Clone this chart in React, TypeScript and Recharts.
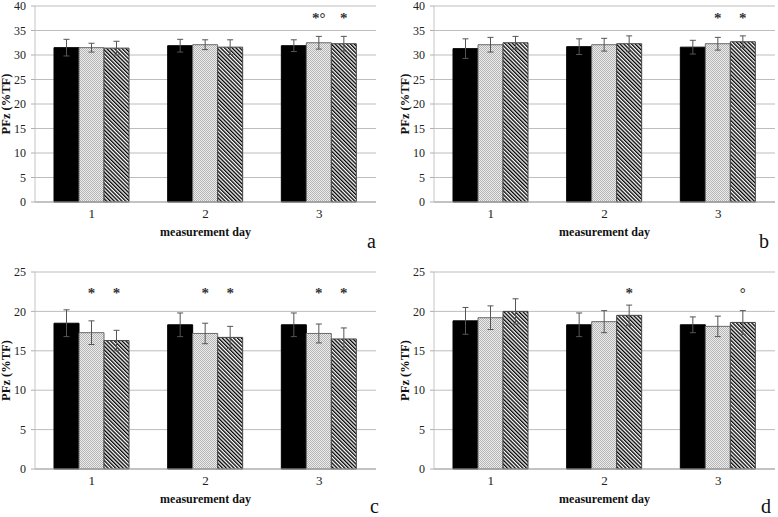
import React from "react";
import { BarChart, Bar, XAxis, YAxis, CartesianGrid, ErrorBar, LabelList } from "recharts";

// measurement days
const days = ["1", "2", "3"];

// panel a
const aBlack = [31.5, 31.9, 31.9];
const aBlackErr = [1.7, 1.3, 1.2];
const aDot = [31.5, 32.1, 32.5];
const aDotErr = [0.9, 1.0, 1.3];
const aHatch = [31.4, 31.6, 32.3];
const aHatchErr = [1.4, 1.5, 1.5];
const aDotMark = ["", "", "*°"];
const aHatchMark = ["", "", "*"];

// panel b
const bBlack = [31.3, 31.7, 31.6];
const bBlackErr = [2.0, 1.6, 1.4];
const bDot = [32.1, 32.1, 32.3];
const bDotErr = [1.5, 1.3, 1.3];
const bHatch = [32.5, 32.3, 32.7];
const bHatchErr = [1.3, 1.6, 1.2];
const bDotMark = ["", "", "*"];
const bHatchMark = ["", "", "*"];

// panel c
const cBlack = [18.5, 18.3, 18.3];
const cBlackErr = [1.7, 1.5, 1.5];
const cDot = [17.3, 17.2, 17.2];
const cDotErr = [1.5, 1.3, 1.2];
const cHatch = [16.3, 16.7, 16.5];
const cHatchErr = [1.3, 1.4, 1.4];
const cDotMark = ["*", "*", "*"];
const cHatchMark = ["*", "*", "*"];

// panel d
const dBlack = [18.8, 18.3, 18.3];
const dBlackErr = [1.7, 1.5, 1.0];
const dDot = [19.2, 18.7, 18.1];
const dDotErr = [1.5, 1.4, 1.3];
const dHatch = [20.0, 19.5, 18.6];
const dHatchErr = [1.6, 1.3, 1.5];
const dDotMark = ["", "", ""];
const dHatchMark = ["", "*", "°"];

const ticks40 = [0, 5, 10, 15, 20, 25, 30, 35, 40];
const ticks25 = [0, 5, 10, 15, 20, 25];
const sepTicks = [0, 1, 2, 3];

const FONT = "'Liberation Serif', 'Times New Roman', serif";

const build = (black, blackErr, dot, dotErr, hatch, hatchErr, dotMark, hatchMark) =>
  days.map((d, i) => ({
    day: d,
    black: black[i],
    blackErr: blackErr[i],
    dot: dot[i],
    dotErr: dotErr[i],
    hatch: hatch[i],
    hatchErr: hatchErr[i],
    dotMark: dotMark[i],
    hatchMark: hatchMark[i],
  }));

// star / circle marks placed at a fixed value level above the bars
const markContent = (values: number[], level: number) => (p: any) => {
  const { x, y, width, height, value, index } = p;
  if (!value) return null;
  const v = values[index];
  const perUnit = height / v;
  const yy = y + height - level * perUnit;
  return (
    <text x={x + width / 2} y={yy + 7} textAnchor="middle" style={{ fontFamily: FONT }} fontSize={15} fontWeight="bold" fill="#333">
      {value}
    </text>
  );
};

const Panel = ({ id, left, top, width, height, marginTop, marginBottom, axisW, labelX, max, ticks, level, data, dot, hatch, letter, letterLeft, letterTop }) => (
  <div style={{ position: "absolute", left, top, width, height }}>
    <BarChart
      width={width}
      height={height}
      data={data}
      margin={{ top: marginTop, right: width - axisW - 341, left: 0, bottom: marginBottom }}
      barCategoryGap={19}
      barGap={0}
      style={{ fontFamily: FONT }}
    >
      <defs>
        <pattern id={"dots" + id} width="2" height="2" patternUnits="userSpaceOnUse">
          <rect width="2" height="2" fill="#ededed" />
          <rect x="0" y="0" width="1" height="1" fill="#b4b4b4" />
          <rect x="1" y="1" width="1" height="1" fill="#b4b4b4" />
        </pattern>
        <pattern id={"hatch" + id} width="2.7" height="2.7" patternUnits="userSpaceOnUse" patternTransform="rotate(-45)">
          <rect width="2.7" height="2.7" fill="#ffffff" />
          <rect x="0" y="0" width="1.35" height="2.7" fill="#000000" />
        </pattern>
      </defs>
      <CartesianGrid vertical={false} stroke="#bdbdbd" />
      <XAxis
        xAxisId="sep"
        type="number"
        domain={[0, 3]}
        ticks={sepTicks}
        allowDataOverflow
        tick={false}
        axisLine={false}
        tickLine={{ stroke: "#9a9a9a" }}
        tickSize={4}
        height={0}
      />
      <XAxis
        dataKey="day"
        axisLine={{ stroke: "#a8a8a8" }}
        tickLine={false}
        tickSize={0}
        tickMargin={7}
        height={34}
        tick={{ fontFamily: FONT, fontSize: 13, fill: "#222" }}
        label={{ value: "measurement day", position: "insideBottom", offset: 0, fontFamily: FONT, fontSize: 12, fontWeight: "bold", fill: "#111" }}
      />
      <YAxis
        width={axisW}
        domain={[0, max]}
        ticks={ticks}
        interval={0}
        axisLine={{ stroke: "#c4c4c4" }}
        tickLine={{ stroke: "#b0b0b0" }}
        tickSize={4}
        tickMargin={5}
        tick={{ fontFamily: FONT, fontSize: 12, fill: "#222" }}
        label={(p: any) => {
          const vb = p.viewBox || {};
          const cy = (vb.y || 0) + (vb.height || 0) / 2;
          return (
            <text x={labelX} y={cy} transform={`rotate(-90 ${labelX} ${cy})`} textAnchor="middle" dominantBaseline="central" style={{ fontFamily: FONT }} fontSize={12.5} fontWeight="bold" fill="#111">
              PFz (%TF)
            </text>
          );
        }}
      />
      <Bar dataKey="black" fill="#000" stroke="#000" isAnimationActive={false}>
        <ErrorBar dataKey="blackErr" width={3} stroke="#555" strokeWidth={1} direction="y" />
      </Bar>
      <Bar dataKey="dot" fill={`url(#dots${id})`} stroke="#6a6a6a" isAnimationActive={false}>
        <ErrorBar dataKey="dotErr" width={3} stroke="#555" strokeWidth={1} direction="y" />
        <LabelList dataKey="dotMark" content={markContent(dot, level)} />
      </Bar>
      <Bar dataKey="hatch" fill={`url(#hatch${id})`} stroke="#444" isAnimationActive={false}>
        <ErrorBar dataKey="hatchErr" width={3} stroke="#555" strokeWidth={1} direction="y" />
        <LabelList dataKey="hatchMark" content={markContent(hatch, level)} />
      </Bar>
    </BarChart>
    <div style={{ position: "absolute", left: letterLeft, top: letterTop, fontFamily: FONT, fontSize: 20, lineHeight: "16px", color: "#111" }}>
      {letter}
    </div>
  </div>
);

export default function App() {
  return (
    <div style={{ position: "absolute", left: 0, top: 0, width: 778, height: 517, background: "#fff", overflow: "hidden" }}>
      <Panel id="a" left={0} top={0} width={388} height={258} marginTop={6} marginBottom={22} axisW={35} labelX={6}
        max={40} ticks={ticks40} level={38}
        data={build(aBlack, aBlackErr, aDot, aDotErr, aHatch, aHatchErr, aDotMark, aHatchMark)}
        dot={aDot} hatch={aHatch} letter="a" letterLeft={367} letterTop={233} />
      <Panel id="b" left={388} top={0} width={390} height={258} marginTop={6} marginBottom={22} axisW={46} labelX={17}
        max={40} ticks={ticks40} level={38}
        data={build(bBlack, bBlackErr, bDot, bDotErr, bHatch, bHatchErr, bDotMark, bHatchMark)}
        dot={bDot} hatch={bHatch} letter="b" letterLeft={371} letterTop={233} />
      <Panel id="c" left={0} top={258} width={388} height={259} marginTop={14} marginBottom={14} axisW={35} labelX={6}
        max={25} ticks={ticks25} level={22.6}
        data={build(cBlack, cBlackErr, cDot, cDotErr, cHatch, cHatchErr, cDotMark, cHatchMark)}
        dot={cDot} hatch={cHatch} letter="c" letterLeft={370} letterTop={240} />
      <Panel id="d" left={388} top={258} width={390} height={259} marginTop={14} marginBottom={14} axisW={46} labelX={17}
        max={25} ticks={ticks25} level={22.6}
        data={build(dBlack, dBlackErr, dDot, dDotErr, dHatch, dHatchErr, dDotMark, dHatchMark)}
        dot={dDot} hatch={dHatch} letter="d" letterLeft={373} letterTop={240} />
    </div>
  );
}
